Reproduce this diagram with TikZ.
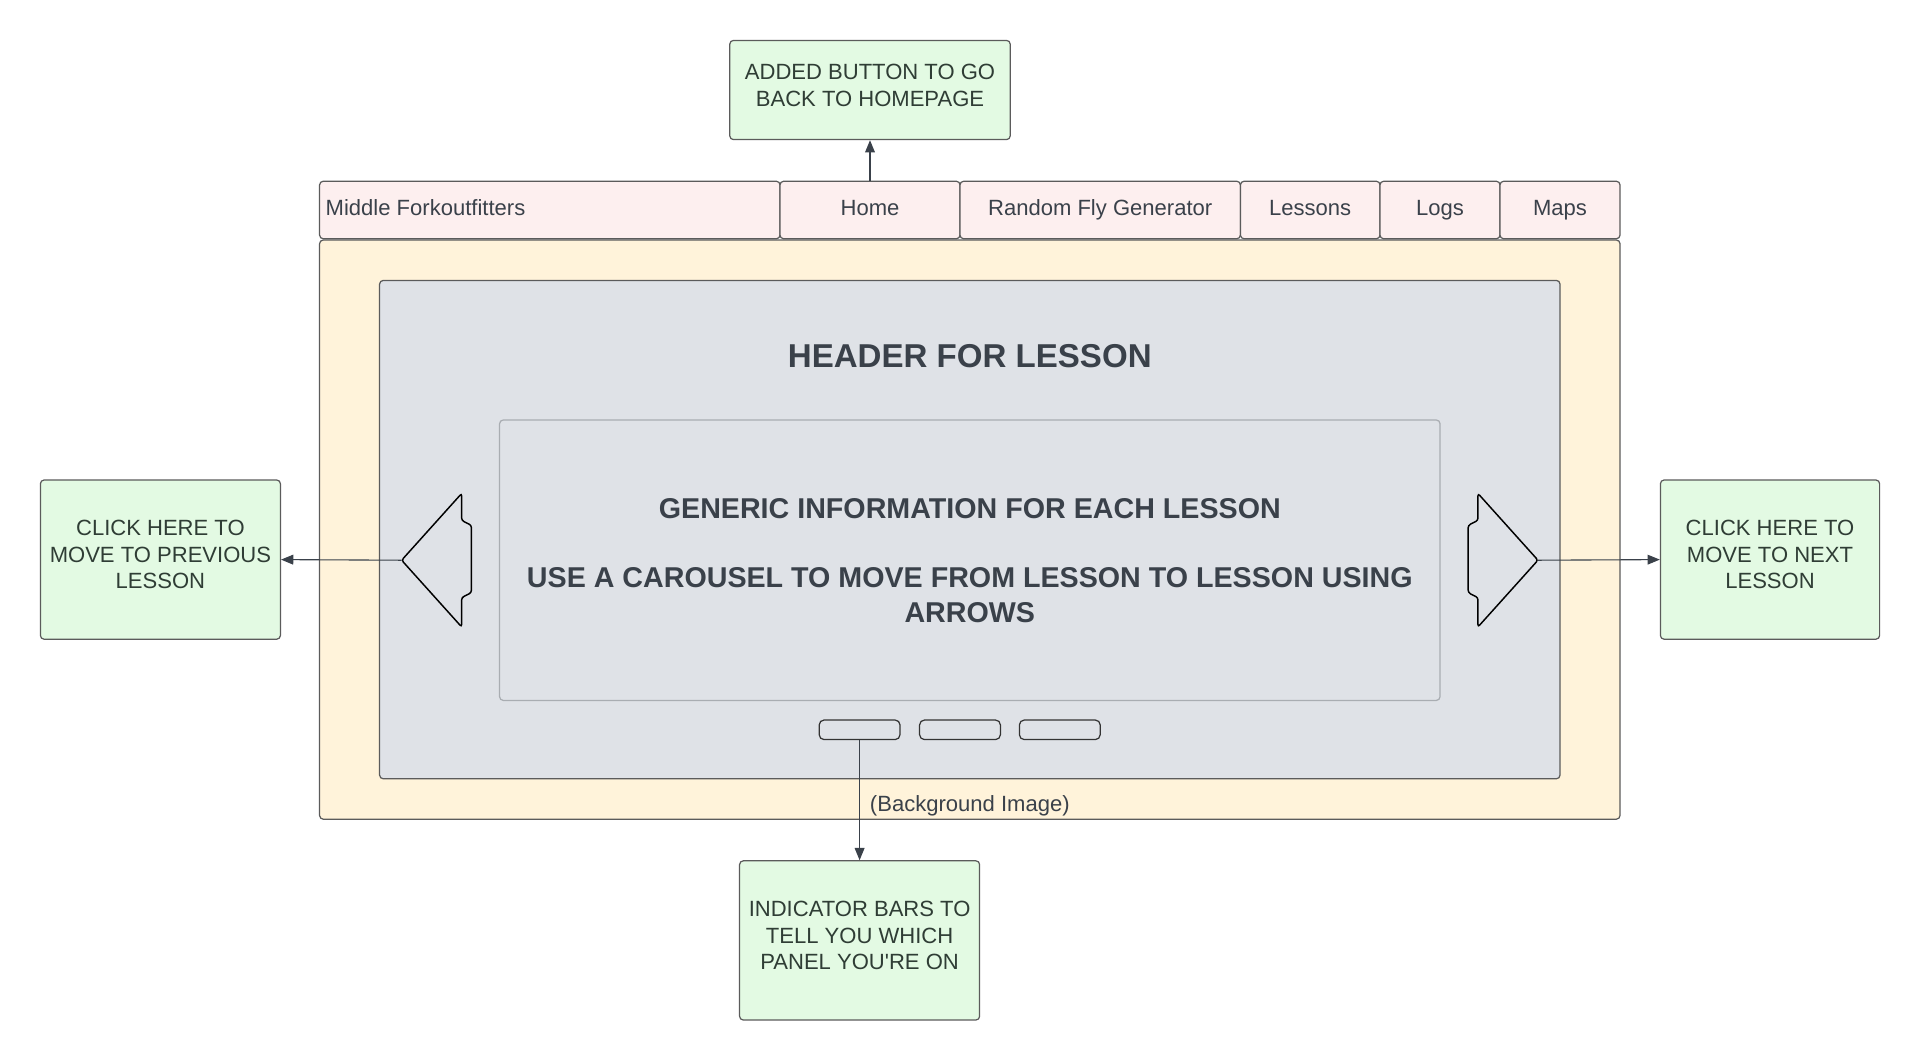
\documentclass[tikz,border=0pt]{standalone}
\usepackage{fontspec}
\setmainfont{Liberation Sans}
\usetikzlibrary{arrows.meta}
\usetikzlibrary{positioning}

\definecolor{notegreen}{HTML}{E3FAE3}
\definecolor{navpink}{HTML}{FDEFEF}
\definecolor{pageyellow}{HTML}{FFF3DA}
\definecolor{slidegrey}{HTML}{DFE2E7}
\definecolor{innerline}{HTML}{A9ADB2}
\definecolor{textdark}{HTML}{3A414A}
\definecolor{notetext}{HTML}{2F3D35}
\definecolor{linegrey}{HTML}{5B5B5B}

\tikzset{
	note/.style={draw=linegrey, fill=notegreen, line width=1pt, rounded corners=3pt, align=center,
		text=notetext, font=\fontsize{18}{21.6}\selectfont, inner sep=0pt,
		execute at end node={\rule[-8pt]{0pt}{0pt}}},
	navcell/.style={draw=linegrey, fill=navpink, line width=1pt, rounded corners=3pt, minimum height=47pt,
		inner sep=5pt, outer sep=0pt, text height=13pt, text depth=4pt,
		text=textdark, font=\fontsize{18}{21.6}\selectfont, anchor=west},
	indbar/.style={draw=black!80, fill=slidegrey, line width=1pt, rounded corners=4pt,
		minimum width=66pt, minimum height=16pt, inner sep=0pt},
	pointer/.style={draw=textdark, line width=0.9pt, -{Triangle[length=10pt, width=8pt]}},
	carousel/.style={draw=black, fill=slidegrey, line width=1.2pt, rounded corners=2pt}
}

\begin{document}
\begin{tikzpicture}[x=1pt, y=-1pt]
		\useasboundingbox (0,0) rectangle (1568,865.67);

		% page background and slide
		\node[draw=linegrey, fill=pageyellow, line width=1pt, rounded corners=3pt, minimum width=1062pt, minimum height=473pt] (page) at (792,432.5) {};
		\node[draw=linegrey, fill=slidegrey, line width=1pt, rounded corners=3pt, minimum width=964pt, minimum height=407pt] (slide) at (792,432.5) {};
		\node[text=textdark, font=\fontsize{27}{32}\selectfont\bfseries] (header) at (792,291) {HEADER FOR LESSON};
		\node[draw=innerline, fill=slidegrey, line width=1pt, rounded corners=3pt, minimum width=768pt, minimum height=229pt,
			align=center, text=textdark, font=\fontsize{23.4}{28}\selectfont\bfseries] (info) at (792,457.5)
			{GENERIC INFORMATION FOR EACH LESSON\\[29pt]USE A CAROUSEL TO MOVE FROM LESSON TO LESSON USING\\ARROWS};
		\node[text=textdark, font=\fontsize{18}{21.6}\selectfont] (bgnote) at (792,658) {(Background Image)};

		% nav bar, left -> right
		\node[navcell, minimum width=376pt, text width=366pt, align=flush left] (brand) at (261,171.5) {Middle Forkoutfitters};
		\node[navcell, minimum width=147pt, right=0pt of brand] (home) {Home};
		\node[navcell, minimum width=229pt, right=0pt of home] (random) {Random Fly Generator};
		\node[navcell, minimum width=114pt, right=0pt of random] (lessons) {Lessons};
		\node[navcell, minimum width=98pt, right=0pt of lessons] (logs) {Logs};
		\node[navcell, minimum width=98pt, right=0pt of logs] (maps) {Maps};

		% carousel arrows
		\draw[carousel] (377,403) -- (377,425) -- (385,429) -- (385,484) -- (377,488) -- (377,512) -- (328,457.5) -- cycle;
		\draw[carousel] (1207,403) -- (1207,425) -- (1199,429) -- (1199,484) -- (1207,488) -- (1207,512) -- (1256,457.5) -- cycle;
		\coordinate (prevtip) at (328,457.5);
		\coordinate (nexttip) at (1256,457.5);

		% indicator bars
		\node[indbar] (bar1) at (702,596) {};
		\node[indbar] (bar2) at (784,596) {};
		\node[indbar] (bar3) at (865.5,596) {};

		% notes
		\node[note, minimum width=229pt, minimum height=81pt] (homenote) at (710.5,73.5) {ADDED BUTTON TO GO\\BACK TO HOMEPAGE};
		\node[note, minimum width=196pt, minimum height=130pt] (prevnote) at (131,457) {CLICK HERE TO\\MOVE TO PREVIOUS\\LESSON};
		\node[note, minimum width=179pt, minimum height=130pt] (nextnote) at (1445.5,457) {CLICK HERE TO\\MOVE TO NEXT\\LESSON};
		\node[note, minimum width=196pt, minimum height=130pt] (barsnote) at (702,768) {INDICATOR BARS TO\\TELL YOU WHICH\\PANEL YOU\textquotesingle RE ON};

		\draw[pointer] (home.north) -- (homenote.south);
		\draw[pointer] (prevtip) -- (prevnote.east);
		\draw[pointer] (nexttip) -- (nextnote.west);
		\draw[pointer] (bar1.south) -- (barsnote.north);
	\end{tikzpicture}
\end{document}
